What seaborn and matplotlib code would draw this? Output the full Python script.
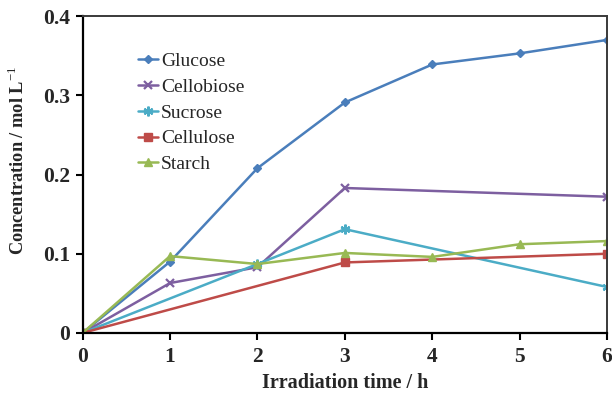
import matplotlib
matplotlib.use("Agg")
import matplotlib.pyplot as plt
import seaborn as sns
import pandas as pd

# Measured concentrations (mol/L) versus irradiation time (h)
glucose_t = [0, 1, 2, 3, 4, 5, 6]
glucose = [0, 0.090, 0.208, 0.291, 0.339, 0.353, 0.370]
cellobiose_t = [0, 1, 2, 3, 6]
cellobiose = [0, 0.063, 0.083, 0.183, 0.172]
sucrose_t = [0, 2, 3, 6]
sucrose = [0, 0.087, 0.131, 0.058]
cellulose_t = [0, 3, 6]
cellulose = [0, 0.089, 0.100]
starch_t = [0, 1, 2, 3, 4, 5, 6]
starch = [0, 0.097, 0.087, 0.101, 0.096, 0.112, 0.116]

names = ["Glucose", "Cellobiose", "Sucrose", "Cellulose", "Starch"]
times = [glucose_t, cellobiose_t, sucrose_t, cellulose_t, starch_t]
values = [glucose, cellobiose, sucrose, cellulose, starch]

x_ticks = [0, 1, 2, 3, 4, 5, 6]
y_ticks = [0, 0.1, 0.2, 0.3, 0.4]
y_tick_labels = ["0", "0.1", "0.2", "0.3", "0.4"]

colors = ["#4A7EBB", "#7D5FA0", "#4BACC6", "#BE4B48", "#98B954"]
markers = ["D", "x", (6, 2, 0), "s", "^"]
msizes = [4.5, 6, 7, 5.5, 6]

sns.set_theme(style="white")
plt.rcParams["font.family"] = ["Liberation Serif", "DejaVu Serif"]
plt.rcParams["mathtext.fontset"] = "custom"
plt.rcParams["mathtext.rm"] = "Liberation Serif"
plt.rcParams["mathtext.bf"] = "Liberation Serif:bold"

frames = []
for n, t, v in zip(names, times, values):
    frames.append(pd.DataFrame({"time": t, "conc": v, "compound": n}))
df = pd.concat(frames, ignore_index=True)

fig = plt.figure(figsize=(6.12, 3.94), dpi=100)
ax = fig.add_axes([0.135, 0.155, 0.857, 0.804])

for n, c, m, ms in zip(names, colors, markers, msizes):
    sub = df[df["compound"] == n]
    filled = m not in ("x",) and not isinstance(m, tuple)
    sns.lineplot(data=sub, x="time", y="conc", ax=ax, color=c, marker=m,
                 markersize=ms, linewidth=1.8, label=n,
                 markeredgecolor=c, markerfacecolor=c if filled else "none",
                 markeredgewidth=1.0 if filled else 1.6)

ax.set_xlim(0, 6)
ax.set_ylim(0, 0.4)
ax.set_xticks(x_ticks)
ax.set_yticks(y_ticks)
ax.set_yticklabels(y_tick_labels)
for lab in ax.get_xticklabels() + ax.get_yticklabels():
    lab.set_fontweight("bold")
    lab.set_fontsize(15.5)

ax.tick_params(axis="both", which="major", direction="out", length=5,
               width=1.5, color="black", left=True, bottom=True, pad=4)
ax.tick_params(axis="x", pad=5)

for side in ["left", "bottom"]:
    ax.spines[side].set_color("black")
    ax.spines[side].set_linewidth(1.6)
for side in ["top", "right"]:
    ax.spines[side].set_color("#3a3a3a")
    ax.spines[side].set_linewidth(1.4)

ax.set_xlabel("Irradiation time / h", fontsize=14.5, fontweight="bold")
ax.set_ylabel(r"Concentration / mol L$^{-1}$", fontsize=13.2, fontweight="bold")
ax.yaxis.set_label_coords(-0.105, 0.546)
ax.xaxis.set_label_coords(0.5, -0.128)
ax.xaxis.label.set_va("top")

leg = ax.legend(loc="upper left", bbox_to_anchor=(0.09, 0.91), frameon=False,
                fontsize=14, handlelength=1.05, handletextpad=0.15,
                labelspacing=0.42, borderaxespad=0)

fig.savefig("out.png", dpi=100)
